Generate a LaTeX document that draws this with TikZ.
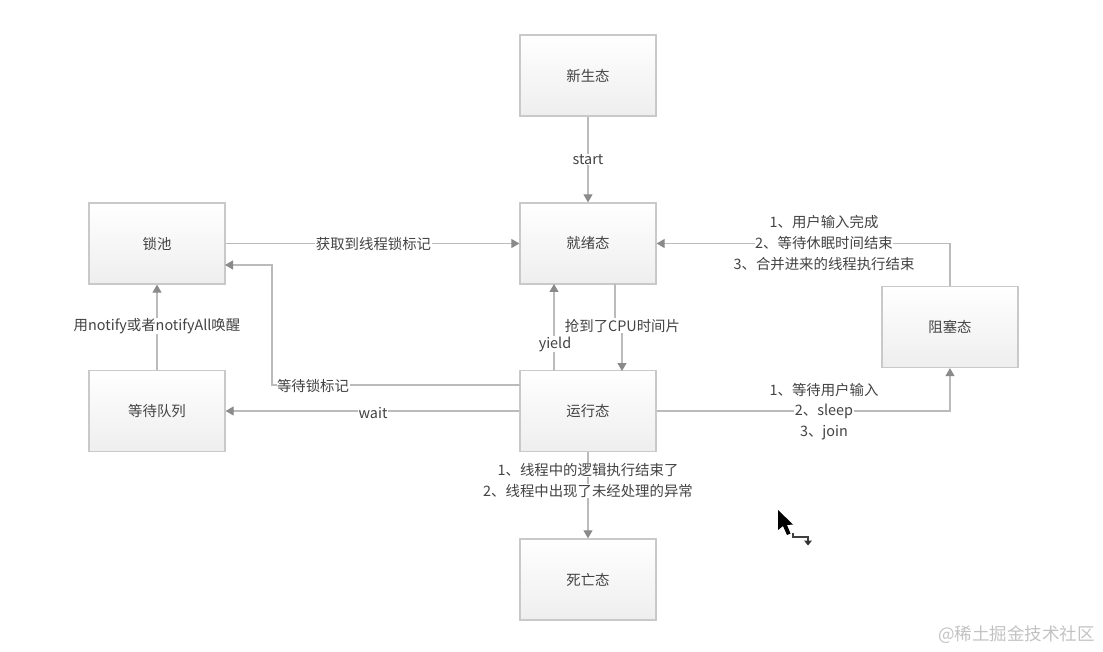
\documentclass[tikz,border=0pt]{standalone}
\usepackage{fontspec}
\setmainfont{Noto Sans CJK SC}
\usetikzlibrary{arrows.meta,shadows}
\tikzset{
  statebox/.style={rectangle,minimum width=136pt,minimum height=81pt,inner sep=0pt,
    draw=boxedge,line width=1.3pt,top color=white,bottom color=boxbottom,text=labeltext,
    font=\fontsize{14.4}{21}\selectfont,
    general shadow={shadow xshift=0.5pt,shadow yshift=-0.8pt,fill=black!10}},
  link/.style={draw=linegray,line width=1.2pt,-{Triangle[length=8pt,width=9pt,fill=arrowgray,color=arrowgray]}},
  tag/.style={fill=white,inner xsep=0.5pt,inner ysep=0.5pt,text=labeltext,
    font=\fontsize{14.4}{21}\selectfont},
}
\definecolor{boxedge}{HTML}{C9C9C9}
\definecolor{boxbottom}{HTML}{EEEEEE}
\definecolor{linegray}{HTML}{BBBBBB}
\definecolor{arrowgray}{HTML}{8A8A8A}
\definecolor{labeltext}{HTML}{434343}
\definecolor{markgray}{HTML}{C2C2C2}
\begin{document}
\begin{tikzpicture}[x=1pt,y=-1pt]
\useasboundingbox (0,0) rectangle (1103,652);
\node[statebox] (new)   at (588,75.5)  {新生态};
\node[statebox] (ready) at (588,243.5) {就绪态};
\node[statebox] (run)   at (588,411)   {运行态};
\node[statebox] (dead)  at (588,579.5) {死亡态};
\node[statebox] (lock)  at (157,243.5) {锁池};
\node[statebox] (wait)  at (157,411)   {等待队列};
\node[statebox] (block) at (950,327)   {阻塞态};
\coordinate (lockin)   at (225,265);
\coordinate (bendA)    at (272,265);
\coordinate (bendB)    at (272,385);
\coordinate (runlockout) at (520,385);
\coordinate (yieldout) at (554,371);
\coordinate (yieldin)  at (554,284);
\coordinate (cpuout)   at (615,284);
\coordinate (cpuA)     at (615,326);
\coordinate (cpuB)     at (622,326);
\coordinate (cpuin)    at (622,371);
\coordinate (blockbend) at (950,243.5);
\coordinate (runbend)  at (950,411);
\draw[link] (new.south) -- (ready.north);
\draw[link] (lock.east) -- (ready.west);
\draw[link] (block.north) -- (blockbend) -- (ready.east);
\draw[link] (run.east) -- (runbend) -- (block.south);
\draw[link] (wait.north) -- (lock.south);
\draw[link] (run.west) -- (wait.east);
\draw[link] (runlockout) -- (bendB) -- (bendA) -- (lockin);
\draw[link] (yieldout) -- (yieldin);
\draw[link] (cpuout) -- (cpuA) -- (cpuB) -- (cpuin);
\draw[link] (run.south) -- (dead.north);
\node[tag] (tstart) at (588,159.5) {start};
\node[tag] (tlock)  at (373.5,243.5) {获取到线程锁标记};
\node[tag] (tbackA) at (824,222.5) {1、用户输入完成};
\node[tag] (tbackB) at (824,243.5) {2、等待休眠时间结束};
\node[tag] (tbackC) at (824,264.5) {3、合并进来的线程执行结束};
\node[tag] (tcpu)   at (622.5,325.5) {抢到了CPU时间片};
\node[tag] (tyield) at (555,344) {yield};
\node[tag] (tnotify) at (157,326) {用notify或者notifyAll唤醒};
\node[tag] (tmark)  at (313,386) {等待锁标记};
\node[tag] (twait)  at (373,413) {wait};
\node[tag] (tblockA) at (824,390.5) {1、等待用户输入};
\node[tag] (tblockB) at (824,411.5) {2、sleep};
\node[tag] (tblockC) at (824,432.5) {3、join};
\node[tag] (tdeadA) at (588,470) {1、线程中的逻辑执行结束了};
\node[tag] (tdeadB) at (588,491) {2、线程中出现了未经处理的异常};
\node[text=markgray,inner sep=0pt,font=\fontsize{17.5}{20}\selectfont] (mark) at (1016.5,635) {@稀土掘金技术社区};
% cursor
\fill[black] (778,510) -- (778,530) -- (783,526) -- (787,535) -- (790.5,533.5) -- (787,525) -- (793,524.5) -- cycle;
\draw[black!75,line width=1.3pt] (793,533) -- (793,537) -- (808,537) -- (808,541);
\fill[black!80] (804,540.5) -- (812,540.5) -- (808,545.5) -- cycle;
\end{tikzpicture}
\end{document}
